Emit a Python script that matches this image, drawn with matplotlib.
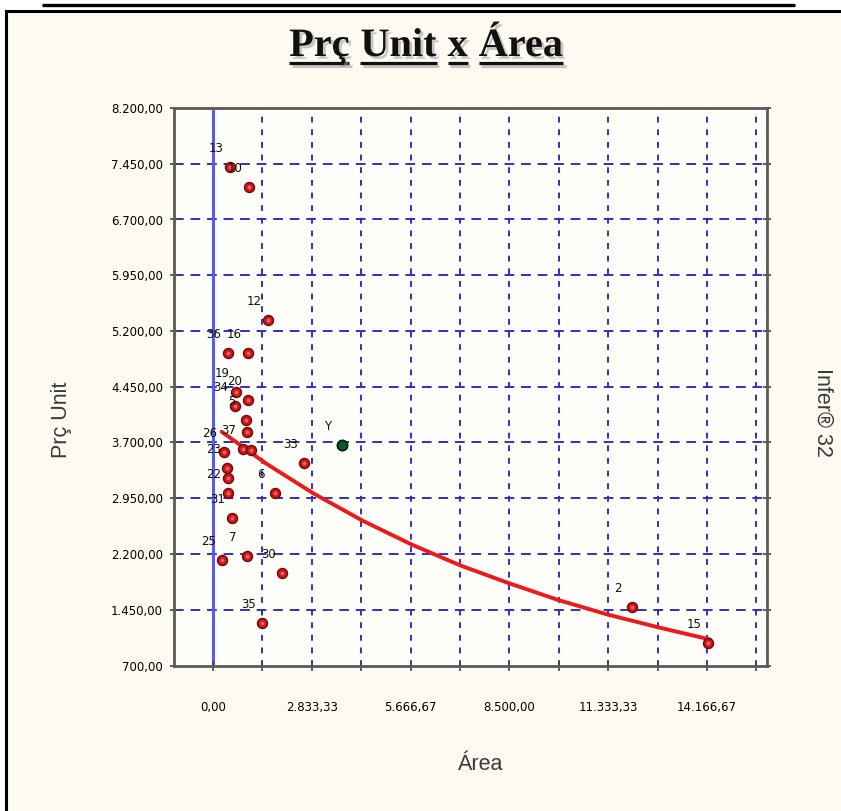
"""Prç Unit x Área — Infer 32 style regression scatter, redrawn headless.

Saves out.png (841x811 px).
"""
import matplotlib
matplotlib.use("Agg")
import matplotlib.pyplot as plt
import matplotlib.patheffects as pe
from matplotlib.lines import Line2D
from matplotlib.patches import Rectangle
from matplotlib.ticker import FixedLocator, FuncFormatter

W_PX, H_PX = 841, 811

# sample points: label, Área, Prç Unit
POINT_LABELS = ['13', '10', '12', '36', '16', '19', '20', '34', '5', '',
                '37', '', '26', '23', '', '22', '31', '25', '7', '30',
                '35', '6', '33', '2', '15']
AREA = [488, 1032, 1577, 430, 1004, 660, 1004, 631, 946, 975,
        860, 1090, 315, 401, 430, 430, 545, 258, 975, 1979,
        1405, 1778, 2610, 12016, 14195]
PRICE = [7406, 7137, 5348, 4904, 4904, 4379, 4272, 4191, 4003, 3841,
         3613, 3599, 3572, 3357, 3222, 3021, 2684, 2119, 2173, 1944,
         1272, 3021, 3424, 1487, 1003]

# estimated point (green)
Y_LABEL = 'Y'
Y_AREA = 3699
Y_PRICE = 3666

# regression curve
CURVE_AREA = [249, 1500, 2877, 4300, 5698, 7100, 8469, 9900, 11336, 12800, 14253]
CURVE_PRICE = [3845, 3424, 3016, 2646, 2327, 2045, 1810, 1581, 1383, 1210, 1050]

# axis ticks
X_MAJOR = [0, 2833.33, 5666.67, 8500.00, 11333.33, 14166.67]
X_MINOR = [1416.67, 4250.00, 7083.33, 9916.67, 12750.00, 15583.33]
Y_MAJOR = [700, 1450, 2200, 2950, 3700, 4450, 5200, 5950, 6700, 7450, 8200]

TITLE_WORDS = ['Prç', 'Unit', 'x', 'Área']
HEADER = 'Gráficos da Regressão (Y,X) - Prç Unit x Área'

CREAM = '#fdfaf1'
GRID = '#3030c4'


def fx(px):
    return px / W_PX


def fy(py):
    return 1 - py / H_PX


def br_fmt(v, _pos=None):
    s = f"{v:,.2f}"
    return s.replace(',', '_').replace('.', ',').replace('_', '.')


def draw_title(fig, words, cx, base):
    """Bold serif title, each word underlined, with a soft shadow."""
    fig.canvas.draw()
    r = fig.canvas.get_renderer()
    kw = dict(fontsize=29, fontweight='bold', family=['Liberation Serif', 'DejaVu Serif'],
              color='#111111')
    widths = []
    for w in words:
        t = fig.text(0, 0, w, **kw)
        widths.append(t.get_window_extent(r).width)
        t.remove()
    space = 11
    total = sum(widths) + space * (len(words) - 1)
    x = cx - total / 2
    shadow_t = [pe.SimplePatchShadow(offset=(2, -2), shadow_rgbFace='#9a9a9a', alpha=0.55),
                pe.Normal()]
    shadow_l = [pe.SimpleLineShadow(offset=(2, -2), shadow_color='#9a9a9a', alpha=0.55),
                pe.Normal()]
    for w, wd in zip(words, widths):
        fig.text(fx(x), fy(base), w, ha='left', va='baseline',
                 path_effects=shadow_t, **kw)
        fig.add_artist(Line2D([fx(x), fx(x + wd)], [fy(base + 7), fy(base + 7)],
                              transform=fig.transFigure, color='#111111', lw=2.3,
                              solid_capstyle='butt', path_effects=shadow_l))
        x += wd + space


def main():
    fig = plt.figure(figsize=(W_PX / 100, H_PX / 100), dpi=100, facecolor='white')

    # outer frame (cream panel, only left/top edges visible)
    fig.patches.append(Rectangle((fx(6), -0.1), 1.2, fy(11) + 0.1,
                                 transform=fig.transFigure, facecolor=CREAM,
                                 edgecolor='black', lw=2.2, zorder=-5))

    # cut-off header at the very top (only its descenders show)
    fig.text(fx(418), fy(-8), HEADER, ha='center', va='baseline', fontsize=24,
             fontweight='bold', family=['Liberation Serif', 'DejaVu Serif'], color='black')
    fig.add_artist(Line2D([fx(42), fx(795)], [fy(4.5), fy(4.5)], transform=fig.transFigure,
                          color='black', lw=2.4, solid_capstyle='butt'))

    ax = fig.add_axes([fx(174), fy(665.5), fx(767) - fx(174), fy(108) - fy(665.5)])
    ax.set_zorder(1)
    ax.set_facecolor('#fdfdf9')
    ax.set_xlim(-1118, 15887)
    ax.set_ylim(700, 8200)

    # grid
    for v in sorted(X_MAJOR + X_MINOR)[1:]:
        ax.axvline(v, color=GRID, lw=1.4, dashes=(3, 3.5), zorder=1)
    for v in Y_MAJOR[1:-1]:
        ax.axhline(v, color=GRID, lw=1.4, dashes=(5, 3.5), zorder=1)
    ax.axvline(0, color='#5a5af0', lw=2.2, zorder=1)

    ax.plot(CURVE_AREA, CURVE_PRICE, color='#ee1a1a', lw=2.8, zorder=3,
            solid_capstyle='round', solid_joinstyle='round')

    ax.scatter(AREA, PRICE, s=52, c='#cc1818', edgecolors='#6e0808', linewidths=1.0,
               zorder=4)
    ax.scatter(AREA, PRICE, s=8, c='#f06060', linewidths=0, zorder=4)
    ax.scatter([Y_AREA], [Y_PRICE], s=55, c='#0d5a26', edgecolors='#041a0a',
               linewidths=1.2, zorder=4)

    lab_kw = dict(textcoords='offset points', xytext=(-10, 13.5), ha='center', va='center',
                  fontsize=8.5, color='#111111', zorder=5)
    for lbl, x, y in zip(POINT_LABELS, AREA, PRICE):
        if lbl:
            ax.annotate(lbl, (x, y), **lab_kw)
    ax.annotate(Y_LABEL, (Y_AREA, Y_PRICE), **lab_kw)

    # ticks
    ax.xaxis.set_major_locator(FixedLocator(X_MAJOR))
    ax.xaxis.set_minor_locator(FixedLocator(X_MINOR))
    ax.yaxis.set_major_locator(FixedLocator(Y_MAJOR))
    ax.xaxis.set_major_formatter(FuncFormatter(br_fmt))
    ax.yaxis.set_major_formatter(FuncFormatter(br_fmt))
    ax.tick_params(axis='x', which='both', direction='inout', length=7, width=1.2,
                   color='#444444', pad=22, labelsize=8.5, labelcolor='black')
    ax.tick_params(axis='y', which='both', direction='inout', length=6, width=1.2,
                   color='#444444', pad=5, labelsize=8.5, right=True, labelcolor='black')
    for s in ax.spines.values():
        s.set_color('#5a5a5a')
        s.set_linewidth(2)

    # axis titles
    lab = dict(fontsize=15.5, color='#3a3a3a', family=['Liberation Sans', 'DejaVu Sans'])
    fig.text(fx(62), fy(420), 'Prç Unit', rotation=90, ha='center', va='center', **lab)
    fig.text(fx(481), fy(765), 'Área', ha='center', va='center', **lab)
    fig.text(fx(823), fy(412), 'Infer® 32', rotation=270, ha='center', va='center', **lab)

    draw_title(fig, TITLE_WORDS, 426, 56)

    fig.savefig('out.png', dpi=100, facecolor=fig.get_facecolor())
    plt.close(fig)


if __name__ == "__main__":
    main()
